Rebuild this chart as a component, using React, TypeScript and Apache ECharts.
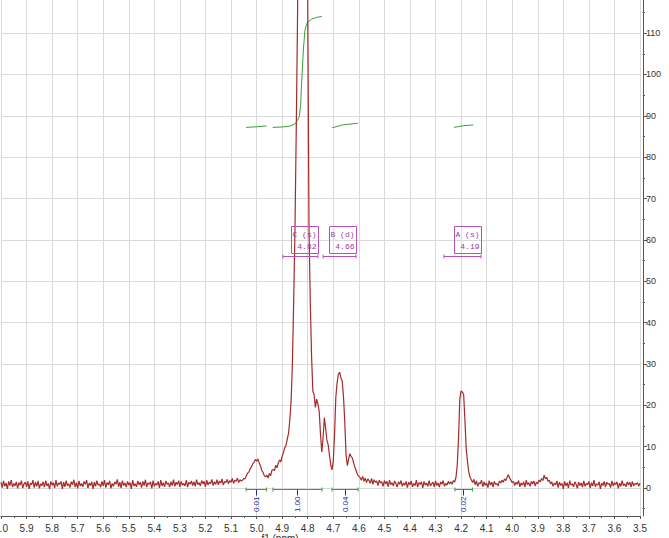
import React, { useEffect, useRef } from 'react';
import * as echarts from 'echarts';

// Spectrum sampling: ppm grid from 6.000 down to 3.500 every 0.005 ppm
const PPM_START = 6.0;
const PPM_STEP = 0.005;

// intensities, split by region (left -> right)
const baselineLeft = [
  1.4,0.1,1.7,0.4,1.2,-0.2,1.6,0.6,1.9,0.2,1.1,0.5,1.5,-0.1,1.3,0.7,1.8,0.0,1.0,1.4,
  0.3,1.6,-0.2,1.2,0.8,1.9,0.1,1.4,0.4,1.7,-0.1,1.0,0.6,1.5,0.2,1.8,0.5,1.1,-0.3,1.6,
  0.7,1.3,0.0,1.9,0.4,1.2,0.9,1.6,-0.2,1.4,0.3,1.8,0.6,1.0,0.1,1.5,0.8,2.0,0.2,1.3,
  -0.1,1.7,0.5,1.1,0.3,1.6,0.9,1.9,0.0,1.2,0.6,1.5,-0.2,1.4,0.4,1.8,0.7,1.0,0.2,1.6,
  0.5,1.9,0.1,1.3,0.8,1.7,-0.1,1.1,0.4,1.5,0.9,2.1,0.3,1.4,0.0,1.8,0.6,1.2,0.2,1.6,
  0.7,1.3,-0.2,1.9,0.5,1.0,0.3,1.7,0.8,1.4,0.1,1.6,0.6,2.0,0.2,1.2,0.9,1.5,-0.1,1.8,
  0.4,1.1,0.7,1.6,0.0,1.9,0.5,1.3,0.3,1.7,0.9,1.2,0.2,1.5,0.6,2.0,0.4,1.4,0.8,1.8,
  0.3,1.6,0.7,1.1,0.5,1.9,0.2,1.4,0.9,1.7,
];
const baselineRise = [
  0.6,1.5,0.4,2.0,0.8,1.3,0.5,1.8,1.0,1.6,0.3,1.9,0.7,1.4,1.1,2.1,0.6,1.5,0.9,2.0,
  0.8,1.7,1.2,2.2,0.7,1.6,1.3,2.1,1.0,1.8,1.4,2.3,1.1,1.9,1.6,2.4,1.3,2.0,1.7,
];
const peaksMain = [
  1.9,2.3,2.2,3.0,3.6,3.9,4.7,5.1,5.9,6.2,6.9,6.5,7.0,6.1,5.4,4.3,3.8,3.0,2.7,3.1,
  2.4,3.5,3.0,4.3,4.5,4.2,5.5,4.9,6.1,6.8,6.3,7.7,8.6,9.7,10.3,11.9,13.2,16.5,21.0,30.0,
  45.0,62.0,86.0,113.0,150.0,195.0,235.0,255.0,248.0,220.0,170.0,118.0,63.0,45.0,32.0,23.5,22.5,19.5,21.5,20.3,
  18.5,13.0,8.7,12.0,17.0,14.5,11.5,10.5,8.0,5.6,4.4,6.5,13.0,22.0,25.5,27.5,28.0,26.6,25.8,22.0,
  16.0,8.0,5.4,7.0,8.3,7.6,7.2,6.0,5.0,4.1,3.2,2.8,
];
const baselineMid = [
  2.5,1.9,2.8,1.6,2.4,1.3,2.2,1.8,1.1,2.3,0.9,2.0,1.4,1.7,0.6,1.9,1.2,1.5,0.4,1.8,
  1.0,1.6,0.3,1.9,0.8,1.3,0.5,1.7,1.1,0.2,1.5,0.9,1.8,0.4,1.2,0.7,1.6,0.1,1.4,0.8,
  1.7,0.3,1.1,0.6,1.9,0.2,1.3,0.9,1.5,0.0,1.6,0.7,1.2,0.4,1.8,0.5,1.0,1.4,0.3,1.7,
  0.6,1.2,0.2,1.5,0.9,1.8,0.4,1.1,0.7,1.6,1.0,
];
const peakA = [
  1.5,0.9,1.8,1.4,2.6,5.5,12.0,21.5,23.5,23.2,22.6,16.5,9.5,6.4,3.9,2.6,2.0,1.3,2.1,
];
const baselineRight = [
  0.8,1.7,0.4,1.3,1.0,1.9,0.3,1.5,0.6,1.2,0.1,1.8,0.7,1.4,0.2,1.6,0.9,1.1,0.5,1.7,
  1.2,1.9,1.4,2.2,1.8,2.6,3.2,2.4,1.9,1.3,
  1.6,0.6,1.4,0.9,1.8,0.3,1.2,0.7,1.5,0.2,1.9,0.8,1.3,0.4,1.6,1.0,1.7,0.5,1.4,1.1,
  1.9,1.5,2.3,1.8,3.1,2.2,2.6,1.6,1.9,1.0,
  1.5,0.4,1.2,0.8,1.7,0.1,1.4,0.6,1.1,-0.2,1.6,0.5,1.3,0.0,1.8,0.7,1.0,0.3,1.5,0.9,
  -0.1,1.4,0.6,1.2,0.2,1.7,0.4,1.1,0.8,1.6,0.0,1.3,0.5,1.9,0.3,1.0,0.7,1.5,-0.2,1.2,
  0.6,1.6,0.2,1.4,0.9,1.1,0.1,1.7,0.5,1.3,0.8,1.5,-0.1,1.2,0.4,1.8,0.6,1.0,0.3,1.5,
  0.7,1.4,0.2,1.6,0.5,1.1,0.9,1.3,0.4,1.2,
];

// integral curves [ppm, value on the same scale]
const integralCurve1 = [[5.041, 87.2], [5.0, 87.35], [4.961, 87.55]];
const integralCurve2 = [
  [4.937, 87.2], [4.9, 87.3], [4.87, 87.5], [4.85, 88.0], [4.84, 88.9], [4.833, 89.8],
  [4.828, 92.5], [4.824, 97.8], [4.817, 105.9], [4.811, 110.7], [4.802, 112.5],
  [4.784, 113.4], [4.765, 113.8], [4.745, 114.0],
];
const integralCurve3 = [[4.705, 87.1], [4.663, 87.8], [4.604, 88.2]];
const integralCurve4 = [[4.228, 87.2], [4.191, 87.6], [4.152, 87.8]];

// integral ranges and values
const integralFrom = [5.041, 4.936, 4.705, 4.224];
const integralTo = [4.961, 4.744, 4.603, 4.155];
const integralLabelPpm = [5.002, 4.843, 4.654, 4.191];
const integralValues = ['0.01', '1.00', '0.04', '0.02'];

// multiplet annotations
const peakNames = ['C (s)', 'B (d)', 'A (s)'];
const peakShifts = ['4.82', '4.66', '4.19'];
const peakFrom = [4.897, 4.740, 4.267];
const peakTo = [4.760, 4.611, 4.122];

const xTicksMin = 3.5;
const xTicksMax = 6.0;
const yMajorTicks = [0, 10, 20, 30, 40, 50, 60, 70, 80, 90, 100, 110];
const yMinorTicks = [-5, 5, 15, 25, 35, 45, 55, 65, 75, 85, 95, 105, 115];

const RED = '#a52a2a';
const GREEN = '#3d9c3d';
const PURPLE = '#b652b6';
const PURPLE_TEXT = '#9a3a9a';
const NAVY = '#2a2a96';
const GRID = '#dadada';

export default function App() {
  const ref = useRef<HTMLDivElement>(null);
  useEffect(() => {
    if (!ref.current) return;
    const chart = echarts.init(ref.current, undefined, { renderer: 'svg' });
    const intensity = [
      ...baselineLeft, ...baselineRise, ...peaksMain, ...baselineMid, ...peakA, ...baselineRight,
    ];
    const spectrum = intensity.map((v, i) => [+(PPM_START - i * PPM_STEP).toFixed(3), v]);

    const integralLine = (data: number[][]) => ({
      type: 'line',
      data,
      showSymbol: false,
      symbol: 'none',
      lineStyle: { color: GREEN, width: 1 },
      z: 2,
      silent: true,
    });

    chart.setOption({
      animation: false,
      grid: { left: 1, right: 29, top: 0, bottom: 22, containLabel: false, outerBoundsMode: 'none' },
      xAxis: {
        type: 'value',
        min: xTicksMin,
        max: xTicksMax,
        interval: 0.1,
        inverse: true,
        axisLine: { show: true, onZero: false, lineStyle: { color: '#555', width: 1 } },
        axisTick: { show: true, length: 3, lineStyle: { color: '#555' } },
        minorTick: { show: true, splitNumber: 2, length: 2, lineStyle: { color: '#555' } },
        axisLabel: {
          formatter: (v: number) => v.toFixed(1),
          color: '#333',
          fontSize: 10,
          fontFamily: 'Liberation Sans',
          margin: 7,
          hideOverlap: false,
        },
        splitLine: { show: true, lineStyle: { color: GRID, width: 1 } },
      },
      yAxis: [
        {
          type: 'value',
          position: 'right',
          offset: 3,
          min: -6.77,
          max: 118,
          axisLine: { show: true, lineStyle: { color: '#555', width: 1 } },
          axisTick: { show: true, length: 4, customValues: yMajorTicks, lineStyle: { color: '#555' } },
          axisLabel: {
            customValues: yMajorTicks,
            color: '#333',
            fontSize: 9,
            fontFamily: 'Liberation Sans',
            margin: 3,
          },
          splitLine: { show: true, lineStyle: { color: GRID, width: 1 } },
        },
        {
          type: 'value',
          position: 'right',
          offset: 3,
          min: -6.77,
          max: 118,
          axisLine: { show: false },
          axisTick: { show: true, length: 2, customValues: yMinorTicks, lineStyle: { color: '#555' } },
          axisLabel: { show: false },
          splitLine: { show: false },
        },
      ],
      graphic: [
        {
          type: 'text',
          x: 280,
          y: 533,
          style: {
            text: 'f1 (ppm)',
            fill: '#333',
            font: '10px "Liberation Sans"',
            align: 'center',
            verticalAlign: 'top',
          },
        },
      ],
      series: [
        integralLine(integralCurve1),
        integralLine(integralCurve2),
        integralLine(integralCurve3),
        integralLine(integralCurve4),
        {
          type: 'line',
          data: spectrum,
          showSymbol: false,
          symbol: 'none',
          lineStyle: { color: RED, width: 1.2 },
          z: 3,
          silent: true,
        },
        {
          type: 'custom',
          coordinateSystem: 'cartesian2d',
          encode: { x: [0, 1, 2], y: 3 },
          data: integralFrom.map((f, i) => [f, integralTo[i], integralLabelPpm[i], -0.25, i]),
          z: 4,
          silent: true,
          renderItem: (params: any, api: any) => {
            const i = api.value(4);
            const a = api.coord([api.value(0), api.value(3)]);
            const b = api.coord([api.value(1), api.value(3)]);
            const l = api.coord([api.value(2), api.value(3)]);
            const y = Math.round(a[1]) + 0.5;
            const lx = Math.round(l[0]) + 0.5;
            const st = { stroke: GREEN, lineWidth: 1 };
            return {
              type: 'group',
              children: [
                { type: 'line', shape: { x1: a[0], y1: y, x2: b[0], y2: y }, style: st },
                { type: 'line', shape: { x1: a[0], y1: y - 2, x2: a[0], y2: y + 2 }, style: st },
                { type: 'line', shape: { x1: b[0], y1: y - 2, x2: b[0], y2: y + 2 }, style: st },
                { type: 'line', shape: { x1: lx, y1: y, x2: lx, y2: y + 6 }, style: { stroke: NAVY, lineWidth: 1 } },
                {
                  type: 'text',
                  x: lx,
                  y: y + 7,
                  rotation: Math.PI / 2,
                  style: {
                    text: integralValues[i],
                    fill: NAVY,
                    font: '8px "Liberation Sans"',
                    align: 'right',
                    verticalAlign: 'middle',
                  },
                },
              ],
            };
          },
        },
        {
          type: 'custom',
          coordinateSystem: 'cartesian2d',
          encode: { x: [0, 1], y: 2 },
          data: peakFrom.map((f, i) => [f, peakTo[i], 56.1, i]),
          z: 5,
          silent: true,
          renderItem: (params: any, api: any) => {
            const i = api.value(3);
            const a = api.coord([api.value(0), api.value(2)]);
            const b = api.coord([api.value(1), api.value(2)]);
            const y = Math.round(a[1]) + 0.5;
            const right = Math.round(b[0]) + 0.5;
            const st = { stroke: PURPLE, lineWidth: 1 };
            return {
              type: 'group',
              children: [
                { type: 'line', shape: { x1: a[0], y1: y, x2: b[0], y2: y }, style: st },
                { type: 'line', shape: { x1: a[0], y1: y - 2, x2: a[0], y2: y + 2 }, style: st },
                { type: 'line', shape: { x1: b[0], y1: y - 2, x2: b[0], y2: y + 2 }, style: st },
                {
                  type: 'rect',
                  shape: { x: right - 27, y: y - 30, width: 27, height: 27 },
                  style: { fill: 'none', stroke: PURPLE, lineWidth: 1 },
                },
                {
                  type: 'text',
                  x: right - 2,
                  y: y - 22,
                  style: {
                    text: peakNames[i],
                    fill: PURPLE_TEXT,
                    font: '8px "Liberation Mono"',
                    align: 'right',
                    verticalAlign: 'middle',
                  },
                },
                {
                  type: 'text',
                  x: right - 2,
                  y: y - 10,
                  style: {
                    text: peakShifts[i],
                    fill: PURPLE_TEXT,
                    font: '8px "Liberation Mono"',
                    align: 'right',
                    verticalAlign: 'middle',
                  },
                },
              ],
            };
          },
        },
      ],
    });
    return () => chart.dispose();
  }, []);
  return (
    <div
      ref={ref}
      style={{ position: 'fixed', left: 0, top: 0, width: 669, height: 538, background: '#fff' }}
    />
  );
}
